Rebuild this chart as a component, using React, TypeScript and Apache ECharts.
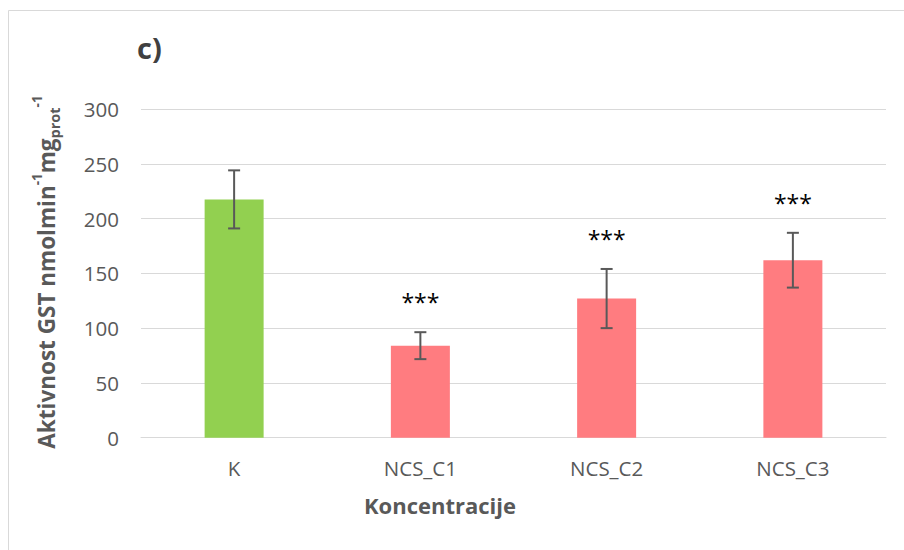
import React, { useEffect, useRef } from "react";
import * as echarts from "echarts";

const categories = ["K", "NCS_C1", "NCS_C2", "NCS_C3"];
const values = [217.5, 84, 127, 162];
const errors = [26.5, 12.3, 27, 25];
const significance = ["", "***", "***", "***"];
const barColors = ["#92d050", "#ff7c80", "#ff7c80", "#ff7c80"];
const yTicks = { min: 0, max: 300, interval: 50 };

const FONT = "'Open Sans', sans-serif";

export default function App() {
  const ref = useRef<HTMLDivElement>(null);
  useEffect(() => {
    if (!ref.current) return;
    const chart = echarts.init(ref.current, undefined, { renderer: "svg" });
    const option: any = {
      animation: false,
      backgroundColor: "#ffffff",
      textStyle: { fontFamily: FONT },
      grid: { left: 141, right: 18, top: 109, bottom: 112.3, containLabel: false },
      xAxis: {
        type: "category",
        data: categories,
        axisLine: { show: true, lineStyle: { color: "#d9d9d9", width: 1 } },
        axisTick: { show: false },
        axisLabel: { color: "#595959", fontSize: 20.5, margin: 20, fontFamily: FONT },
      },
      yAxis: {
        type: "value",
        min: yTicks.min,
        max: yTicks.max,
        interval: yTicks.interval,
        axisLine: { show: false },
        axisTick: { show: false },
        axisLabel: { color: "#595959", fontSize: 20.5, margin: 22, fontFamily: FONT },
        splitLine: { lineStyle: { color: "#d9d9d9", width: 1 } },
      },
      graphic: [
        {
          type: "rect",
          shape: { x: 8.5, y: 10.5, width: 1000, height: 1000 },
          style: { fill: "none", stroke: "#d9d9d9", lineWidth: 1 },
          silent: true,
          z: -10,
        },
        {
          type: "text",
          x: 137,
          y: 47,
          style: {
            text: "c)",
            fontSize: 29,
            fontWeight: "bold",
            fill: "#404040",
            fontFamily: FONT,
            verticalAlign: "middle",
            align: "left",
          },
        },
        {
          type: "text",
          x: 440,
          y: 505,
          style: {
            text: "Koncentracije",
            fontSize: 22,
            fontWeight: "bold",
            fill: "#595959",
            fontFamily: FONT,
            align: "center",
            verticalAlign: "middle",
          },
        },
        {
          type: "text",
          x: 46,
          y: 272,
          rotation: Math.PI / 2,
          style: {
            text: "{m|Aktivnost GST nmolmin}{sup|-1}{m|mg}{sub|prot}{sup|-1}",
            align: "center",
            verticalAlign: "middle",
            fill: "#595959",
            fontFamily: FONT,
            rich: {
              m: { fontSize: 22.5, fontWeight: "bold", fill: "#595959", lineHeight: 32, verticalAlign: "middle", fontFamily: FONT },
              sup: { fontSize: 13.5, fontWeight: "bold", fill: "#595959", lineHeight: 32, verticalAlign: "top", fontFamily: FONT },
              sub: { fontSize: 14.5, fontWeight: "bold", fill: "#595959", lineHeight: 32, verticalAlign: "bottom", fontFamily: FONT },
            },
          },
        },
      ],
      series: [
        {
          type: "bar",
          barWidth: 59,
          data: values.map((v, i) => ({ value: v, itemStyle: { color: barColors[i] } })),
          z: 2,
        },
        {
          type: "custom",
          z: 5,
          data: values.map((v, i) => [i, v, errors[i]]),
          renderItem: (params: any, api: any) => {
            const idx = api.value(0);
            const v = api.value(1);
            const e = api.value(2);
            const top = api.coord([idx, v + e]);
            const bot = api.coord([idx, v - e]);
            const x = top[0];
            const cap = 6;
            const style = { stroke: "#595959", lineWidth: 2 };
            const children: any[] = [
              { type: "line", shape: { x1: x, y1: top[1], x2: x, y2: bot[1] }, style },
              { type: "line", shape: { x1: x - cap, y1: top[1], x2: x + cap, y2: top[1] }, style },
              { type: "line", shape: { x1: x - cap, y1: bot[1], x2: x + cap, y2: bot[1] }, style },
            ];
            const sig = significance[params.dataIndex];
            if (sig) {
              children.push({
                type: "text",
                x: x,
                y: top[1] - 30,
                style: {
                  text: sig,
                  fontSize: 23,
                  fill: "#000000",
                  fontFamily: FONT,
                  align: "center",
                  verticalAlign: "middle",
                },
              });
            }
            return { type: "group", children };
          },
        },
      ],
    };
    chart.setOption(option);
    return () => chart.dispose();
  }, []);
  return (
    <div
      ref={ref}
      style={{ position: "absolute", left: 0, top: 0, width: 904, height: 550 }}
    />
  );
}
